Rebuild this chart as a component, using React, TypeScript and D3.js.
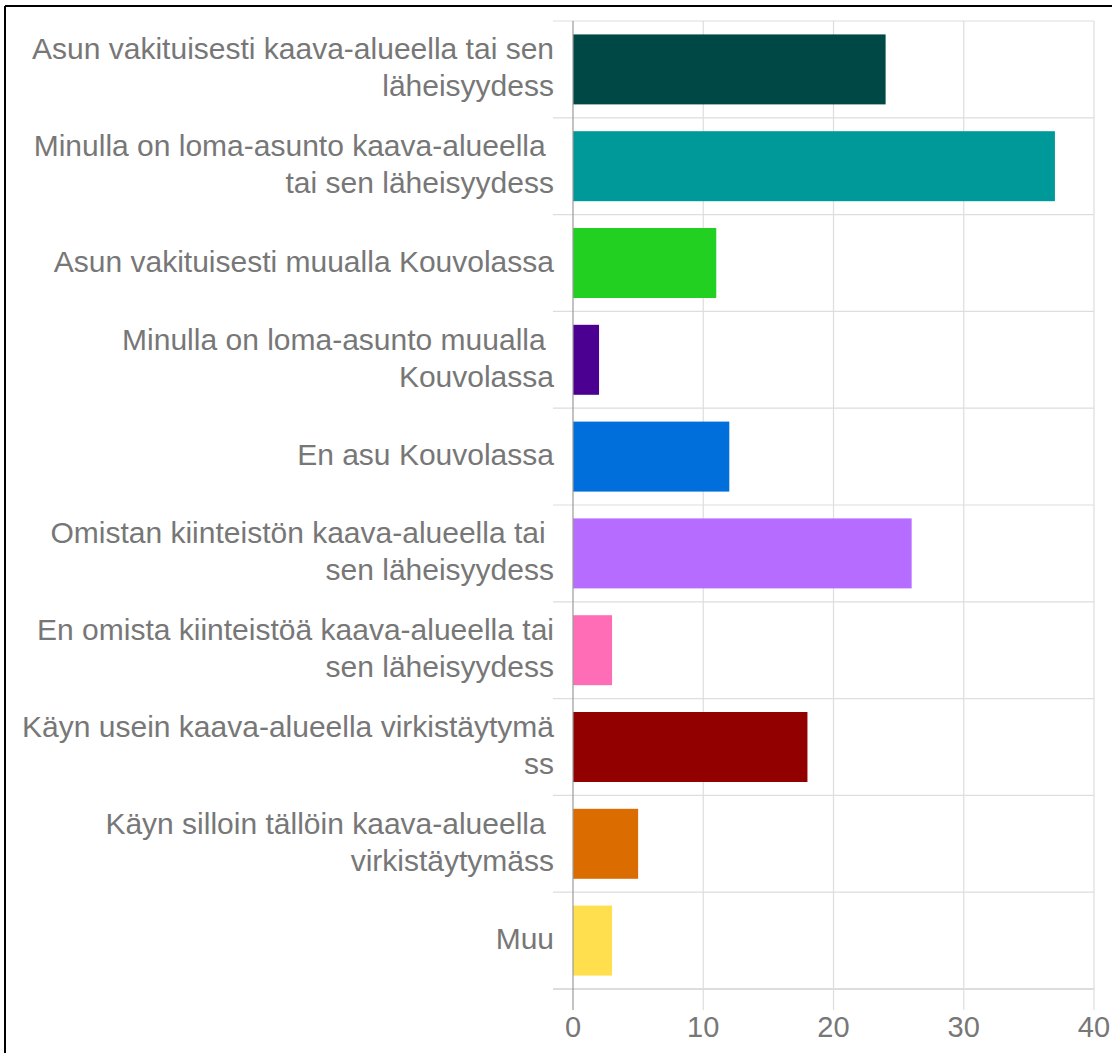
import React from "react";
import * as d3 from "d3";

const categories: string[][] = [
  ["Asun vakituisesti kaava-alueella tai sen", "läheisyydess"],
  ["Minulla on loma-asunto kaava-alueella ", "tai sen läheisyydess"],
  ["Asun vakituisesti muualla Kouvolassa"],
  ["Minulla on loma-asunto muualla ", "Kouvolassa"],
  ["En asu Kouvolassa"],
  ["Omistan kiinteistön kaava-alueella tai ", "sen läheisyydess"],
  ["En omista kiinteistöä kaava-alueella tai", "sen läheisyydess"],
  ["Käyn usein kaava-alueella virkistäytymä", "ss"],
  ["Käyn silloin tällöin kaava-alueella ", "virkistäytymäss"],
  ["Muu"],
];
const values: number[] = [24, 37, 11, 2, 12, 26, 3, 18, 5, 3];
const colors: string[] = [
  "#004846", "#009999", "#22D022", "#4B0092", "#006EDB",
  "#B66DFF", "#FF6DB6", "#920000", "#DB6D00", "#FFDF4D",
];
const xTicks: number[] = [0, 10, 20, 30, 40];

export default function App() {
  const W = 1112, H = 1053;
  const left = 573, right = 1094, top = 21, bottom = 989;
  const x = d3.scaleLinear().domain([0, 40]).range([left, right]);
  const ids = values.map((_, i) => String(i));
  const y = d3.scaleBand<string>().domain(ids).range([top, bottom]).paddingInner(0.277).paddingOuter(0.1385);
  const step = y.step();
  const font = "'Liberation Sans', Arial, sans-serif";
  const textColor = "#777777";
  const lineH = 37;

  return (
    <svg width={W} height={H} style={{ position: "absolute", left: 0, top: 0, background: "#fff" }}>
      <rect x={0} y={0} width={W} height={H} fill="#fff" />
      {/* frame */}
      <line x1={5} y1={6} x2={W} y2={6} stroke="#000" strokeWidth={2} />
      <line x1={5} y1={6} x2={5} y2={H} stroke="#000" strokeWidth={2} />
      {/* vertical grid */}
      {xTicks.slice(1).map((t) => (
        <line key={"v" + t} x1={x(t)} x2={x(t)} y1={top} y2={1010} stroke="#dddddd" strokeWidth={1.2} />
      ))}
      {/* horizontal grid */}
      {d3.range(values.length + 1).map((i) => (
        <line key={"h" + i} x1={553} x2={right} y1={top + i * step} y2={top + i * step}
          stroke="#dddddd" strokeWidth={i === values.length ? 2 : 1.2} />
      ))}
      {/* bars */}
      {values.map((v, i) => (
        <rect key={"b" + i} x={x(0)} y={y(String(i))!} width={x(v) - x(0)} height={y.bandwidth()}
          fill={colors[i]} />
      ))}
      {/* zero axis */}
      <line x1={x(0)} x2={x(0)} y1={top} y2={1010} stroke="#9a9a9a" strokeWidth={1.2} />
      {/* category labels */}
      {categories.map((lines, i) => {
        const cy = y(String(i))! + y.bandwidth() / 2 - 2;
        const n = lines.length;
        return (
          <text key={"c" + i} fontFamily={font} fontSize={30} fill={textColor} textAnchor="end"
            style={{ whiteSpace: "pre" }}>
            {lines.map((ln, j) => (
              <tspan key={j} x={554} y={cy + (j - (n - 1) / 2) * lineH} dy="0.35em">{ln}</tspan>
            ))}
          </text>
        );
      })}
      {/* tick labels */}
      {xTicks.map((t) => (
        <text key={"t" + t} x={x(t)} y={1027} dy="0.35em" textAnchor="middle" fontFamily={font}
          fontSize={29} fill={textColor}>{t}</text>
      ))}
    </svg>
  );
}
